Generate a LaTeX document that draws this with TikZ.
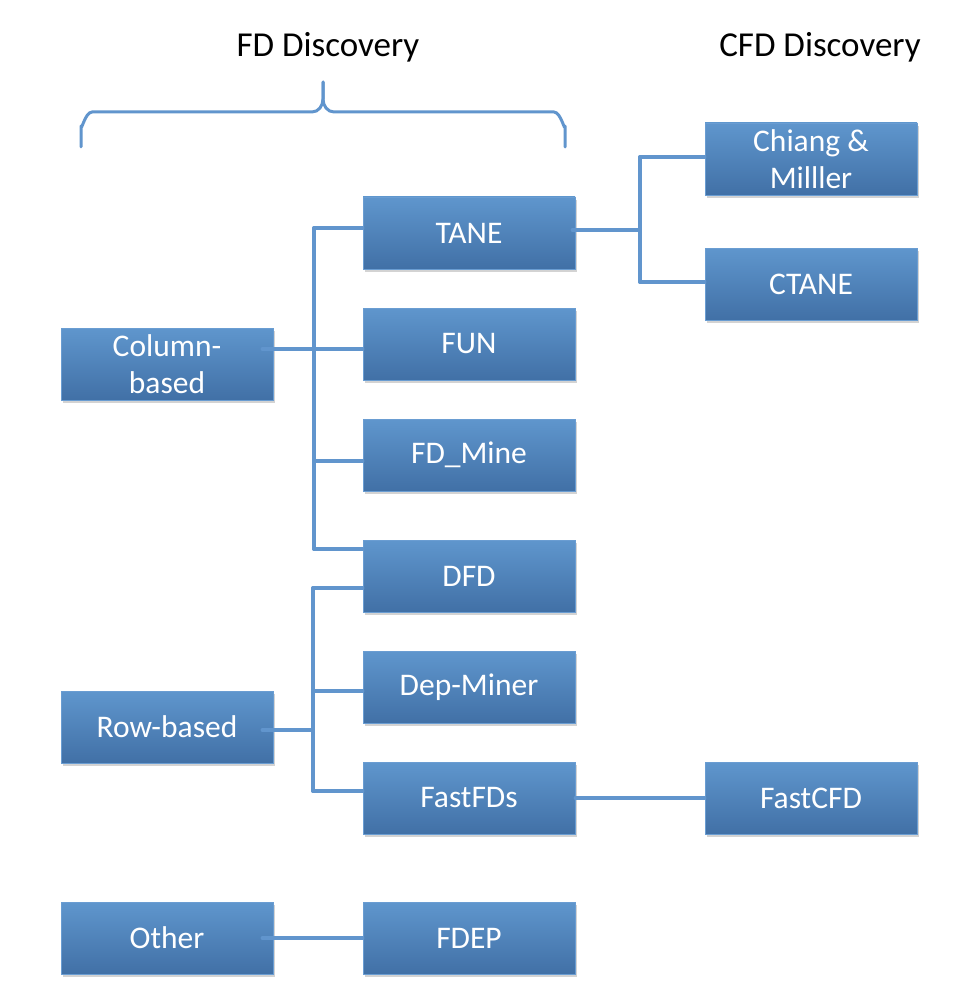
\documentclass[tikz,border=0pt]{standalone}
\usepackage{fontspec}
\setmainfont{Carlito}
\usetikzlibrary{shadows}
\definecolor{boxtop}{HTML}{5F96CD}
\definecolor{boxbot}{HTML}{4170A6}
\definecolor{boxline}{HTML}{6A9DD2}
\definecolor{conncol}{HTML}{6195CD}
\tikzset{
  box/.style={rectangle, minimum width=212pt, minimum height=72pt, inner sep=0pt,
    top color=boxtop, bottom color=boxbot, draw=boxline, line width=0.8pt,
    text=white, align=center, font=\fontsize{31.5}{37}\selectfont,
    drop shadow={opacity=0.35, shadow xshift=2pt, shadow yshift=-3pt}},
  conn/.style={draw=conncol, line width=3.7pt, line cap=round, line join=round},
  title/.style={font=\fontsize{35}{40}\selectfont, text=black},
}
\begin{document}
\begin{tikzpicture}[x=1pt,y=-1pt]
\useasboundingbox (0,0) rectangle (976,1000);
% titles
\node[title] (fdt) at (328,47) {FD Discovery};
\node[title] (cfdt) at (820,47) {CFD Discovery};
% brace
\coordinate (bl) at (81,147);
\coordinate (br) at (565,147);
\coordinate (bt) at (323,82);
\draw[conn, line width=3pt] (bl) -- (81,126) to[out=-90,in=180] (92,112) -- (312,112)
  to[out=0,in=-90] (323,99) -- (bt);
\draw[conn, line width=3pt] (bt) -- (323,99) to[out=-90,in=180] (334,112) -- (554,112)
  to[out=0,in=-90] (565,126) -- (br);
% boxes
\node[box] (col) at (167,364) {Column-\\based};
\node[box] (row) at (167,727) {Row-based};
\node[box] (oth) at (167,938) {Other};
\node[box] (tane) at (469,233) {TANE};
\node[box] (fun) at (469,344) {FUN};
\node[box] (fdm) at (469,455) {FD\_Mine};
\node[box] (dfd) at (469,576) {DFD};
\node[box] (dep) at (469,687) {Dep-Miner};
\node[box] (ffd) at (469,798) {FastFDs};
\node[box] (fdep) at (469,938) {FDEP};
\node[box] (chi) at (811,159) {Chiang \&\\Milller};
\node[box] (ctane) at (811,284) {CTANE};
\node[box] (fcfd) at (811,798) {FastCFD};
% column-based tree
\coordinate (cj) at (314,349);
\coordinate (ct) at (314,228);
\coordinate (cm) at (314,461);
\coordinate (cb) at (314,549);
\draw[conn] ([xshift=-11pt]col.east |- cj) -- (cj);
\draw[conn] (ct) -- (cb);
\draw[conn] (ct) -- (tane.west |- ct);
\draw[conn] (cj) -- (fun.west |- cj);
\draw[conn] (cm) -- (fdm.west |- cm);
\draw[conn] (cb) -- (dfd.west |- cb);
% row-based tree
\coordinate (rj) at (313,730);
\coordinate (rt) at (313,588);
\coordinate (rm) at (313,691);
\coordinate (rb) at (313,791);
\draw[conn] ([xshift=-11pt]row.east |- rj) -- (rj);
\draw[conn] (rt) -- (rb);
\draw[conn] (rt) -- (dfd.west |- rt);
\draw[conn] (rm) -- (dep.west |- rm);
\draw[conn] (rb) -- (ffd.west |- rb);
% TANE to CFD
\coordinate (tj) at (640,230);
\coordinate (tt) at (640,157);
\coordinate (tb) at (640,282);
\draw[conn] ([xshift=-3pt]tane.east |- tj) -- (tj);
\draw[conn] (tt) -- (tb);
\draw[conn] (tt) -- (chi.west |- tt);
\draw[conn] (tb) -- (ctane.west |- tb);
% FastFDs to FastCFD
\draw[conn] (ffd.east) -- (fcfd.west);
% Other to FDEP
\coordinate (oj) at (262,938);
\draw[conn] ([xshift=-11pt]oth.east |- oj) -- (fdep.west |- oj);
\end{tikzpicture}
\end{document}
